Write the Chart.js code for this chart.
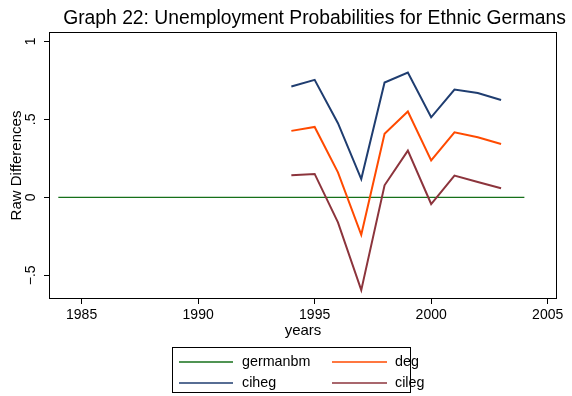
<!DOCTYPE html>
<html>
<head>
<meta charset="utf-8">
<script src="https://cdn.jsdelivr.net/npm/chart.js@4/dist/chart.umd.min.js"></script>
<style>
  html, body { margin: 0; padding: 0; background: #fff; }
  #wrap { position: relative; width: 572px; height: 396px; }
</style>
</head>
<body>
<div id="wrap"><canvas id="c" width="572" height="396"></canvas></div>
<script>
// Survey years and the three difference series
const years = [1994, 1995, 1996, 1997, 1998, 1999, 2000, 2001, 2002, 2003];
const deg   = [0.426, 0.451, 0.160, -0.240, 0.408, 0.550, 0.237, 0.417, 0.385, 0.342];
const ciheg = [0.710, 0.753, 0.475, 0.117, 0.736, 0.800, 0.513, 0.691, 0.669, 0.624];
const cileg = [0.141, 0.150, -0.161, -0.595, 0.077, 0.299, -0.043, 0.139, 0.098, 0.058];

// Benchmark (zero) line
const benchYears = [1984, 1985, 1986, 1987, 1988, 1989, 1990, 1991, 1992, 1993, 1994,
                    1995, 1996, 1997, 1998, 1999, 2000, 2001, 2002, 2003, 2004];
const germanbm   = [0, 0, 0, 0, 0, 0, 0, 0, 0, 0, 0,
                    0, 0, 0, 0, 0, 0, 0, 0, 0, 0];

// Axis ticks
const xTicks = [1985, 1990, 1995, 2000, 2005];
const yTicks = [-0.5, 0, 0.5, 1];
const yTickLabels = ['\u2212.5', '0', '.5', '1'];

const titleText = 'Graph 22: Unemployment Probabilities for Ethnic Germans';
const yTitle = 'Raw Differences';
const xTitle = 'years';

const FONT = '"Liberation Sans", Arial, Helvetica, sans-serif';

const pts = (xs, ys) => xs.map((x, i) => ({ x: x, y: ys[i] }));

const series = [
  { label: 'germanbm', xs: benchYears, ys: germanbm, color: '#16701a', width: 1.3, order: 4 },
  { label: 'deg',      xs: years,      ys: deg,      color: '#ff4a00', width: 2,   order: 3 },
  { label: 'ciheg',    xs: years,      ys: ciheg,    color: '#1f3d70', width: 2,   order: 2 },
  { label: 'cileg',    xs: years,      ys: cileg,    color: '#8c343c', width: 2,   order: 1 }
];

// Title, rotated y labels, axis titles, frame and boxed legend
const decor = {
  id: 'decor',
  afterDraw(chart) {
    const ctx = chart.ctx;
    const a = chart.chartArea;
    const ys = chart.scales.y;
    ctx.save();

    // plot frame
    ctx.strokeStyle = '#000';
    ctx.lineWidth = 1;
    ctx.strokeRect(Math.round(a.left) + 0.5, Math.round(a.top) + 0.5,
                   Math.round(a.right - a.left) - 1, Math.round(a.bottom - a.top) - 1);

    ctx.fillStyle = '#000';
    // title
    ctx.font = '19.3px ' + FONT;
    ctx.textAlign = 'center';
    ctx.textBaseline = 'alphabetic';
    ctx.fillText(titleText, 314.5, 24);

    // y tick labels, reading upward
    ctx.font = '14px ' + FONT;
    yTicks.forEach((v, i) => {
      const py = ys.getPixelForValue(v);
      ctx.save();
      ctx.translate(38, py);
      ctx.rotate(-Math.PI / 2);
      ctx.textAlign = 'center';
      ctx.textBaseline = 'bottom';
      ctx.fillText(yTickLabels[i], 0, 0);
      ctx.restore();
    });

    // y axis title
    ctx.save();
    ctx.font = '15px ' + FONT;
    ctx.translate(24, (a.top + a.bottom) / 2);
    ctx.rotate(-Math.PI / 2);
    ctx.textAlign = 'center';
    ctx.textBaseline = 'bottom';
    ctx.fillText(yTitle, 0, 0);
    ctx.restore();

    // x axis title
    ctx.font = '15px ' + FONT;
    ctx.textAlign = 'center';
    ctx.textBaseline = 'alphabetic';
    ctx.fillText(xTitle, (a.left + a.right) / 2, 335);

    // legend
    const lx = 172, ly = 347, lw = 238, lh = 45;
    ctx.strokeStyle = '#000';
    ctx.lineWidth = 1;
    ctx.strokeRect(lx + 0.5, ly + 0.5, lw, lh);
    const cols = [{ sx: 179, ex: 233, tx: 242 }, { sx: 332, ex: 387, tx: 395 }];
    const rows = [362, 383];
    ctx.font = '14.3px ' + FONT;
    ctx.textAlign = 'left';
    ctx.textBaseline = 'middle';
    series.forEach((s, i) => {
      const c = cols[i % 2], r = rows[Math.floor(i / 2)];
      ctx.strokeStyle = s.color;
      ctx.lineWidth = 1.5;
      ctx.beginPath();
      ctx.moveTo(c.sx, r);
      ctx.lineTo(c.ex, r);
      ctx.stroke();
      ctx.fillStyle = '#000';
      ctx.fillText(s.label, c.tx, r);
    });
    ctx.restore();
  }
};

new Chart(document.getElementById('c'), {
  type: 'line',
  data: {
    datasets: series.map(s => ({
      label: s.label,
      data: pts(s.xs, s.ys),
      borderColor: s.color,
      backgroundColor: s.color,
      borderWidth: s.width,
      pointRadius: 0,
      tension: 0,
      fill: false,
      order: s.order
    }))
  },
  options: {
    responsive: false,
    animation: false,
    devicePixelRatio: 1,
    layout: { padding: { left: 0, top: 32, right: 15, bottom: 0 } },
    plugins: { legend: { display: false }, title: { display: false }, tooltip: { enabled: false } },
    scales: {
      x: {
        type: 'linear',
        min: 1983.6,
        max: 2005.4,
        afterBuildTicks: s => { s.ticks = xTicks.map(v => ({ value: v })); },
        afterFit: s => { s.height = 97; },
        grid: { drawOnChartArea: false, drawTicks: true, tickLength: 5, color: '#000', lineWidth: 1 },
        border: { display: false },
        ticks: {
          color: '#000', font: { family: FONT, size: 14 }, padding: 3,
          maxRotation: 0, minRotation: 0, autoSkip: false,
          callback: v => String(v)
        }
      },
      y: {
        type: 'linear',
        min: -0.652,
        max: 1.06,
        afterBuildTicks: s => { s.ticks = yTicks.map(v => ({ value: v })); },
        afterFit: s => { s.width = 49; },
        grid: { drawOnChartArea: false, drawTicks: true, tickLength: 5, color: '#000', lineWidth: 1 },
        border: { display: false },
        ticks: { display: false }
      }
    }
  },
  plugins: [decor]
});
</script>
</body>
</html>
